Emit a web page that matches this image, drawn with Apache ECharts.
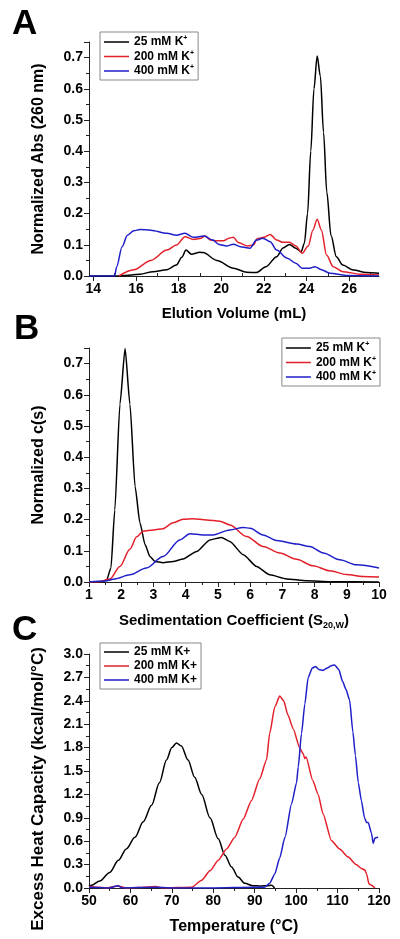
<!DOCTYPE html>
<html><head><meta charset="utf-8">
<script src="https://cdn.jsdelivr.net/npm/echarts@6/dist/echarts.min.js"></script>
<style>html,body{margin:0;padding:0;background:#fff}#c{width:400px;height:939px}</style>
</head><body><div id="c"></div>
<script>
// ---- Panel A: SEC elution ----
const elution25 = [[13.8,0],[15.2,0],[15.8,0.003],[16.2,0.006],[16.8,0.014],[17.45,0.02],[17.9,0.035],[18.15,0.06],[18.35,0.083],[18.6,0.07],[19.0,0.076],[19.15,0.075],[19.8,0.05],[20.57,0.025],[21.2,0.012],[21.65,0.011],[22.1,0.03],[22.6,0.062],[22.9,0.09],[23.2,0.101],[23.5,0.089],[23.75,0.078],[23.9,0.105],[24.05,0.2],[24.2,0.40],[24.35,0.6],[24.5,0.705],[24.65,0.64],[24.8,0.46],[24.95,0.27],[25.15,0.13],[25.4,0.062],[25.7,0.035],[26.2,0.019],[26.8,0.011],[27.4,0.009]];
const elution200 = [[15.2,0],[15.9,0.02],[16.7,0.05],[17.45,0.083],[17.9,0.099],[18.3,0.126],[18.7,0.117],[19.0,0.12],[19.25,0.128],[19.5,0.115],[19.8,0.113],[20.1,0.113],[20.4,0.122],[20.57,0.124],[20.8,0.107],[21.25,0.096],[21.5,0.099],[21.7,0.12],[22.0,0.124],[22.3,0.133],[22.6,0.115],[22.9,0.108],[23.2,0.108],[23.5,0.096],[23.8,0.073],[24.08,0.096],[24.3,0.147],[24.5,0.182],[24.7,0.147],[24.94,0.067],[25.25,0.03],[25.7,0.014],[26.5,0.006],[27.4,0.003]];
const elution400 = [[13.8,0],[15.0,0],[15.1,0.03],[15.35,0.094],[15.6,0.131],[15.9,0.145],[16.2,0.149],[16.7,0.147],[17.45,0.137],[17.9,0.131],[18.3,0.137],[18.7,0.124],[19.2,0.128],[19.6,0.115],[19.9,0.101],[20.25,0.096],[20.57,0.102],[20.9,0.094],[21.35,0.089],[21.65,0.115],[21.95,0.121],[22.3,0.11],[22.6,0.083],[23.1,0.057],[23.5,0.041],[23.8,0.025],[24.15,0.025],[24.4,0.03],[24.7,0.02],[25.1,0.009],[25.85,0.002],[27.4,0]];
const elutionMajorTicks = [14,16,18,20,22,24,26];
const elutionMinorTicks = [15,17,19,21,23,25,27];

// ---- Panel B: sedimentation c(s) ----
const sed25 = [[1.0,0],[1.44,0.002],[1.55,0.007],[1.68,0.045],[1.8,0.23],[1.96,0.57],[2.12,0.748],[2.27,0.57],[2.43,0.306],[2.58,0.19],[2.74,0.12],[2.89,0.082],[3.05,0.066],[3.3,0.062],[3.61,0.066],[3.92,0.074],[4.34,0.098],[4.75,0.135],[5.11,0.143],[5.37,0.13],[5.79,0.087],[6.2,0.05],[6.61,0.023],[7.13,0.01],[7.75,0.004],[8.5,0.001],[10,0]];
const sed200 = [[1.0,0],[1.34,0.001],[1.65,0.01],[1.96,0.05],[2.27,0.105],[2.48,0.145],[2.68,0.163],[3.0,0.167],[3.3,0.171],[3.61,0.19],[3.92,0.201],[4.23,0.203],[4.65,0.199],[5.06,0.195],[5.37,0.183],[5.89,0.146],[6.4,0.114],[6.92,0.093],[7.44,0.073],[7.95,0.052],[8.47,0.036],[8.99,0.024],[9.5,0.018],[10,0.016]];
const sed400 = [[1.0,0],[1.5,0.003],[1.8,0.01],[2.27,0.023],[2.78,0.045],[3.3,0.082],[3.82,0.135],[4.13,0.155],[4.54,0.151],[4.85,0.151],[5.37,0.167],[5.79,0.175],[6.0,0.172],[6.4,0.151],[6.82,0.133],[7.44,0.122],[7.85,0.114],[8.27,0.093],[8.78,0.071],[9.3,0.055],[10,0.045]];

// ---- Panel C: DSC ----
const dsc25 = [[50,0.02],[50.6,0.035],[52.6,0.09],[55,0.2],[57.1,0.355],[59,0.5],[61.1,0.65],[63.1,0.85],[65.1,1.06],[67,1.35],[68.7,1.64],[70,1.8],[71.1,1.86],[72.3,1.82],[73.9,1.64],[75.5,1.42],[77.2,1.2],[79.2,0.9],[81.2,0.63],[82.8,0.42],[84.4,0.27],[86,0.14],[87.6,0.06],[89.5,0.03],[91.5,0.025],[93,0.03],[94.05,0.035],[94.8,0]];
const dsc200 = [[50,0.02],[52,0.01],[54,0.0],[57,0.025],[59,0.0],[62,0.005],[66,0.02],[68,0],[74.8,0.01],[77.2,0.1],[79.2,0.22],[81.2,0.355],[83.2,0.5],[85.2,0.65],[87.2,0.88],[89.2,1.12],[91.2,1.4],[92.85,1.64],[93.6,1.98],[94.85,2.32],[96.05,2.46],[97,2.4],[98,2.22],[99.3,2.04],[100.9,1.79],[101.7,1.72],[102.1,1.66],[102.4,1.68],[104,1.38],[105.3,1.2],[106.5,0.95],[108.5,0.61],[110.5,0.5],[112.5,0.40],[114.5,0.30],[115.75,0.25],[116.6,0.23],[117,0.18],[117.6,0.05],[118.2,0.035],[119,0.0]];
const dsc400 = [[50,0.01],[55,0.0],[57,0.03],[58,0.0],[66,0.01],[70,0],[80,0.0],[90,0.01],[92.4,0.01],[93.6,0.06],[94.85,0.18],[96,0.38],[97.3,0.65],[98.9,1.08],[100.1,1.35],[100.5,1.55],[101.3,1.98],[102.1,2.36],[102.9,2.70],[103.9,2.82],[104.7,2.84],[105.5,2.80],[106.5,2.79],[107.5,2.82],[108.5,2.85],[109.3,2.86],[110.3,2.80],[111.2,2.65],[112.0,2.55],[112.9,2.41],[113.7,2.0],[114.3,1.7],[115,1.35],[115.75,1.12],[116.5,0.9],[117,0.84],[117.4,0.84],[118.2,0.7],[118.6,0.57],[119,0.64],[119.8,0.65]];

const seriesNamesAB = ['25 mM K','200 mM K','400 mM K'];
const seriesNamesC = ['25 mM K+','200 mM K+','400 mM K+'];
const colors = ['#000000','#e3202a','#1f1fc8'];

const FONT = 'Liberation Sans, Arial, sans-serif';
const chart = echarts.init(document.getElementById('c'), null, {renderer:'canvas'});

function yAx(grid, max, interval, name, extra) {
  return Object.assign({
    type:'value', gridIndex:grid, min:0, max:max, interval:interval,
    name:name, nameLocation:'middle', nameGap:42,
    nameTextStyle:{fontFamily:FONT, fontWeight:'bold', fontSize:16, color:'#000'},
    axisLine:{show:true, lineStyle:{color:'#222', width:1}},
    axisTick:{show:true, length:5, lineStyle:{color:'#222'}},
    minorTick:{show:true, splitNumber:2, length:3, lineStyle:{color:'#222'}},
    splitLine:{show:false},
    axisLabel:{fontFamily:FONT, fontWeight:'bold', fontSize:14, color:'#000', margin:6,
      showMaxLabel: max === 3.0, formatter:v=>v.toFixed(1)}
  }, extra||{});
}
function xAx(grid, min, max, interval, name, extra) {
  return Object.assign({
    type:'value', gridIndex:grid, min:min, max:max, interval:interval,
    name:name, nameLocation:'middle', nameGap:30,
    nameTextStyle:{fontFamily:FONT, fontWeight:'bold', fontSize:15, color:'#000'},
    axisLine:{show:true, onZero:false, lineStyle:{color:'#222', width:1}},
    axisTick:{show:true, length:5, lineStyle:{color:'#222'}},
    minorTick:{show:true, splitNumber:2, length:3, lineStyle:{color:'#222'}},
    splitLine:{show:false},
    axisLabel:{fontFamily:FONT, fontWeight:'bold', fontSize:14, color:'#000', margin:6}
  }, extra||{});
}

const legendRich = {
  t:{fontFamily:FONT, fontWeight:'bold', fontSize:12, color:'#000', lineHeight:14},
  s:{fontFamily:FONT, fontWeight:'bold', fontSize:7, color:'#000', verticalAlign:'top', lineHeight:14}
};
function legendAB(names, pos) {
  return Object.assign({
    orient:'vertical', data:names, icon:'rect', itemWidth:25, itemHeight:1.5, itemGap:1.5,
    padding:[3,4,3,4], borderColor:'#888', borderWidth:1,
    formatter:n=>'{t|'+n.replace(/^[AB]/,'')+'}{s|+}',
    textStyle:{rich:legendRich}
  }, pos);
}

function line(name, data, xi, yi, ci, smooth) {
  return {type:'line', name:name, data:data, xAxisIndex:xi, yAxisIndex:yi,
    showSymbol:false, symbol:'none', smooth:smooth, smoothMonotone:'x',
    lineStyle:{color:colors[ci], width:1.5}, itemStyle:{color:colors[ci]}};
}

const option = {
  animation:false,
  backgroundColor:'#fff',
  grid:[
    {left:89, top:42, width:290, height:234},
    {left:89, top:348, width:290, height:234},
    {left:89, top:654, width:290, height:234}
  ],
  xAxis:[
    xAx(0, 13.8, 27.4, null, 'Elution Volume (mL)', {
      axisTick:{show:true, length:5, customValues:elutionMajorTicks, lineStyle:{color:'#222'}},
      axisLabel:{fontFamily:FONT, fontWeight:'bold', fontSize:14, color:'#000', margin:6, customValues:elutionMajorTicks},
      minorTick:{show:false}
    }),
    xAx(1, 1, 10, 1, '{a|Sedimentation Coefficient (S}{s|20,W}{a|)}', {
      nameTextStyle:{rich:{
        a:{fontFamily:FONT, fontWeight:'bold', fontSize:15, color:'#000', lineHeight:18},
        s:{fontFamily:FONT, fontWeight:'bold', fontSize:9, color:'#000', verticalAlign:'bottom', lineHeight:12, padding:[6,0,0,0]}
      }}
    }),
    xAx(2, 50, 120, 10, 'Temperature (°C)', {nameGap:31, nameTextStyle:{fontFamily:FONT, fontWeight:'bold', fontSize:16, color:'#000'}}),
    xAx(0, 13.8, 27.4, null, null, {
      axisLine:{show:false},
      axisTick:{show:true, length:3, customValues:elutionMinorTicks, lineStyle:{color:'#222'}},
      axisLabel:{show:false}, minorTick:{show:false}
    })
  ],
  yAxis:[
    yAx(0, 0.75, 0.1, 'Normalized Abs (260 nm)'),
    yAx(1, 0.75, 0.1, 'Normalized c(s)'),
    yAx(2, 3.0, 0.3, 'Excess Heat Capacity (kcal/mol/°C)', {
      nameTextStyle:{fontFamily:FONT, fontWeight:'bold', fontSize:17, color:'#000', padding:[0,36,0,0]}
    })
  ],
  legend:[
    legendAB(['A25 mM K','A200 mM K','A400 mM K'], {left:100, top:32}),
    legendAB(['B25 mM K','B200 mM K','B400 mM K'], {right:20, top:338}),
    {orient:'vertical', data:seriesNamesC, left:100, top:643, icon:'rect', itemWidth:25, itemHeight:1.5, itemGap:0,
     padding:[2,4,2,4], borderColor:'#888', borderWidth:1,
     textStyle:{fontFamily:FONT, fontWeight:'bold', fontSize:12, color:'#000', lineHeight:14}}
  ],
  graphic:[
    {type:'text', left:12, top:7, style:{text:'A', font:'bold 35px '+FONT, fill:'#000'}},
    {type:'text', left:14, top:312, style:{text:'B', font:'bold 35px '+FONT, fill:'#000'}},
    {type:'text', left:12, top:613, style:{text:'C', font:'bold 35px '+FONT, fill:'#000'}}
  ],
  series:[
    line('A'+seriesNamesAB[0], elution25, 0, 0, 0, 0.3),
    line('A'+seriesNamesAB[1], elution200, 0, 0, 1, 0.3),
    line('A'+seriesNamesAB[2], elution400, 0, 0, 2, 0.3),
    line('B'+seriesNamesAB[0], sed25, 1, 1, 0, 0.2),
    line('B'+seriesNamesAB[1], sed200, 1, 1, 1, 0.3),
    line('B'+seriesNamesAB[2], sed400, 1, 1, 2, 0.3),
    line(seriesNamesC[0], dsc25, 2, 2, 0, 0.3),
    line(seriesNamesC[1], dsc200, 2, 2, 1, 0.2),
    line(seriesNamesC[2], dsc400, 2, 2, 2, 0.2)
  ]
};
chart.setOption(option);
</script>
</body></html>
